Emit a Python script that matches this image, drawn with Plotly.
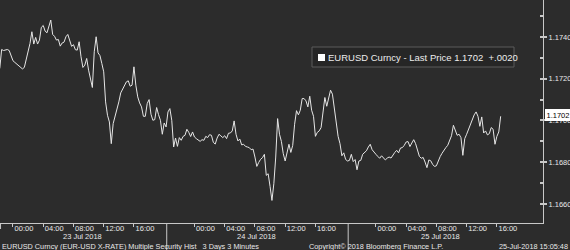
import pandas as pd
import plotly.graph_objects as go

# EURUSD 15-minute readings, 22 Jul 2018 22:15 onward
prices_a = [
    1.17249, 1.17340, 1.17335, 1.17339, 1.17340, 1.17335, 1.17310, 1.17286, 1.17278, 1.17271,
    1.17263, 1.17257, 1.17247, 1.17254, 1.17292, 1.17329, 1.17369, 1.17425, 1.17366, 1.17398,
    1.17366, 1.17385, 1.17446, 1.17455, 1.17428, 1.17420, 1.17457, 1.17481, 1.17412, 1.17403,
    1.17385, 1.17388, 1.17356, 1.17371, 1.17375, 1.17401, 1.17412, 1.17387, 1.17355, 1.17363,
    1.17339, 1.17337, 1.17377, 1.17305, 1.17254, 1.17265, 1.17297, 1.17241, 1.17193, 1.17158,
    1.17329, 1.17401, 1.17324, 1.17311, 1.17273, 1.17233, 1.17089, 1.17025, 1.16993, 1.16889,
    1.16985, 1.17020, 1.17041, 1.17089, 1.17132, 1.17148, 1.17171, 1.17185, 1.17190, 1.17164,
    1.17169, 1.17257, 1.17169, 1.17113, 1.17084, 1.17065, 1.17020, 1.17020, 1.17081, 1.17100,
    1.17030, 1.17001, 1.17004, 1.17062, 1.17028, 1.17001, 1.16934, 1.16988, 1.16969,
]
prices_b = [
    1.17041, 1.17057, 1.17001, 1.16873, 1.16916, 1.16876, 1.16918, 1.16905, 1.16924, 1.16929,
    1.16958, 1.16943, 1.16923, 1.16945, 1.16921, 1.16913, 1.16905, 1.16900, 1.16908, 1.16905,
    1.16924, 1.16918, 1.16932, 1.16929, 1.16895, 1.16887, 1.16916, 1.16934, 1.16926, 1.16918,
    1.16927, 1.16913, 1.16939, 1.16940, 1.16950, 1.16998, 1.16934, 1.16902, 1.16911, 1.16883,
    1.16886, 1.16876, 1.16873, 1.16870, 1.16860, 1.16863, 1.16825, 1.16780, 1.16799, 1.16814,
    1.16822, 1.16838, 1.16737, 1.16745, 1.16684, 1.16617, 1.16697, 1.16825, 1.17009, 1.16934,
    1.16900, 1.16841, 1.16806, 1.16852, 1.16886, 1.16847, 1.16881, 1.16982, 1.17047, 1.17027,
    1.17049, 1.17105, 1.17105, 1.17094, 1.17065, 1.17116, 1.17049, 1.17020, 1.16924, 1.16943,
    1.16950, 1.16966, 1.17033, 1.17110, 1.17068, 1.17103, 1.17145, 1.17126, 1.17059,
]
prices_c = [
    1.16972, 1.16924, 1.16889, 1.16831, 1.16845, 1.16813, 1.16806, 1.16809, 1.16838, 1.16803,
    1.16813, 1.16764, 1.16806, 1.16809, 1.16838, 1.16845, 1.16855, 1.16873, 1.16886, 1.16860,
    1.16846, 1.16838, 1.16828, 1.16819, 1.16831, 1.16823, 1.16811, 1.16820, 1.16825, 1.16820,
    1.16835, 1.16847, 1.16857, 1.16845, 1.16868, 1.16870, 1.16881, 1.16897, 1.16899, 1.16875,
    1.16892, 1.16908, 1.16889, 1.16854, 1.16828, 1.16819, 1.16823, 1.16801, 1.16774, 1.16811,
    1.16807, 1.16790, 1.16780, 1.16783, 1.16807, 1.16827, 1.16843, 1.16860, 1.16870, 1.16881,
    1.16908, 1.16927, 1.16977, 1.16950, 1.16929, 1.16934, 1.16918, 1.16833, 1.16913, 1.16934,
    1.16956, 1.16982, 1.17009, 1.17027, 1.17041, 1.17020, 1.16972, 1.17017, 1.16940, 1.16950,
    1.16931, 1.16937, 1.16966, 1.16958, 1.16886, 1.16924, 1.16945, 1.17020,
]
prices = prices_a + prices_b + prices_c
times = pd.date_range("2018-07-22 22:15", periods=len(prices), freq="15min")

y_tick_vals = [1.1660, 1.1680, 1.1700, 1.1720, 1.1740]
y_tick_text = ["1.1660", "1.1680", "1.1700", "1.1720", "1.1740"]

x_tick_times = [
    "2018-07-23 00:00", "2018-07-23 04:00", "2018-07-23 08:00", "2018-07-23 12:00", "2018-07-23 16:00",
    "2018-07-24 00:00", "2018-07-24 04:00", "2018-07-24 08:00", "2018-07-24 12:00", "2018-07-24 16:00",
    "2018-07-25 00:00", "2018-07-25 04:00", "2018-07-25 08:00", "2018-07-25 12:00", "2018-07-25 16:00",
]
x_tick_text = ["00:00", "04:00", "08:00", "12:00", "16:00"] * 3

day_labels = ["23 Jul 2018", "24 Jul 2018", "25 Jul 2018"]
day_label_pos = ["2018-07-23 09:15", "2018-07-24 08:15", "2018-07-25 08:30"]
day_separators = ["2018-07-23 20:20", "2018-07-24 20:20"]

last_price = "1.1702"
legend_text = "EURUSD Curncy - Last Price 1.1702  +.0020"

BG = "#2c2c2c"
FG = "#e8e8e8"
AX = "#c8c8c8"
FONT = "Liberation Sans"
W, H = 543, 223  # plot-area size in px

fig = go.Figure()
fig.add_trace(go.Scatter(
    x=times, y=prices, mode="lines",
    line=dict(color="#e6e6e6", width=1),
    showlegend=False, hoverinfo="skip",
))

fig.update_layout(
    width=570, height=250,
    margin=dict(l=0, r=27, t=0, b=27),
    paper_bgcolor=BG, plot_bgcolor=BG,
    font=dict(family=FONT, color=FG, size=8),
    showlegend=False,
)

fig.update_xaxes(
    type="date",
    range=["2018-07-22 22:17", "2018-07-25 22:06"],
    tickvals=x_tick_times, ticktext=x_tick_text,
    ticks="outside", ticklen=3, tickcolor=AX, tickwidth=1,
    ticklabelshift=11, ticklabelstandoff=-5,
    tickfont=dict(family=FONT, size=7.5, color=FG),
    showline=True, linecolor=AX, linewidth=1,
    showgrid=False, zeroline=False,
)

fig.update_yaxes(
    side="right",
    range=[1.16509, 1.17577],
    tickvals=y_tick_vals, ticktext=y_tick_text,
    ticks="outside", ticklen=3, tickwidth=2, tickcolor=AX,
    tickfont=dict(family=FONT, size=7.5, color=FG),
    minor=dict(dtick=0.001, tick0=1.166, ticks="inside", ticklen=3, tickcolor=AX),
    showline=True, linecolor=AX, linewidth=1,
    showgrid=False, zeroline=False,
)

for t in day_separators:
    fig.add_shape(type="line", xref="x", yref="paper", x0=t, x1=t,
                  y0=0, y1=-27 / H, line=dict(color=AX, width=1))
fig.add_shape(type="line", xref="paper", yref="paper", x0=0.001, x1=0.001,
              y0=0, y1=-6 / H, line=dict(color=AX, width=1))

for lbl, pos in zip(day_labels, day_label_pos):
    fig.add_annotation(x=pos, y=0, xref="x", yref="paper", text=lbl,
                       showarrow=False, yanchor="middle", yshift=-13,
                       font=dict(family=FONT, size=7.5, color=FG))

fig.add_annotation(x=0, y=0, xref="paper", yref="paper",
                   text="EURUSD Curncy (EUR-USD X-RATE) Multiple Security Hist   3 Days 3 Minutes",
                   showarrow=False, xanchor="left", yanchor="middle", yshift=-23,
                   font=dict(family=FONT, size=7.3, color=FG))
fig.add_annotation(x=307 / W, y=0, xref="paper", yref="paper",
                   text="Copyright© 2018 Bloomberg Finance L.P.",
                   showarrow=False, xanchor="left", yanchor="middle", yshift=-23,
                   font=dict(family=FONT, size=7.3, color=FG))
fig.add_annotation(x=570 / W, y=0, xref="paper", yref="paper",
                   text="25-Jul-2018 15:05:48",
                   showarrow=False, xanchor="right", yanchor="middle", yshift=-23,
                   font=dict(family=FONT, size=7.3, color=FG))

# legend box (frame, swatch, text)
fig.add_shape(type="rect", xref="paper", yref="paper", layer="above",
              x0=312 / W, x1=514 / W, y0=1 - 67 / H, y1=1 - 47 / H,
              fillcolor="#262626", line=dict(color="#5a5a5a", width=1))
fig.add_shape(type="rect", xref="paper", yref="paper", layer="above",
              x0=318 / W, x1=325 / W, y0=1 - 61 / H, y1=1 - 54 / H,
              fillcolor="#ffffff", line=dict(width=0))
fig.add_annotation(x=326 / W, y=1 - 57 / H, xref="paper", yref="paper",
                   text=legend_text, showarrow=False,
                   xanchor="left", yanchor="middle",
                   font=dict(family=FONT, size=9.5, color="#ececec"))

# last price tag
fig.add_annotation(x=1, y=float(last_price), xref="paper", yref="y",
                   text=last_price, showarrow=False,
                   xanchor="left", yanchor="middle", xshift=2, yshift=1,
                   bgcolor="#ffffff", bordercolor="#ffffff", borderpad=0.5,
                   font=dict(family=FONT, size=7.5, color="#000000"))

fig.write_html("out.html")
